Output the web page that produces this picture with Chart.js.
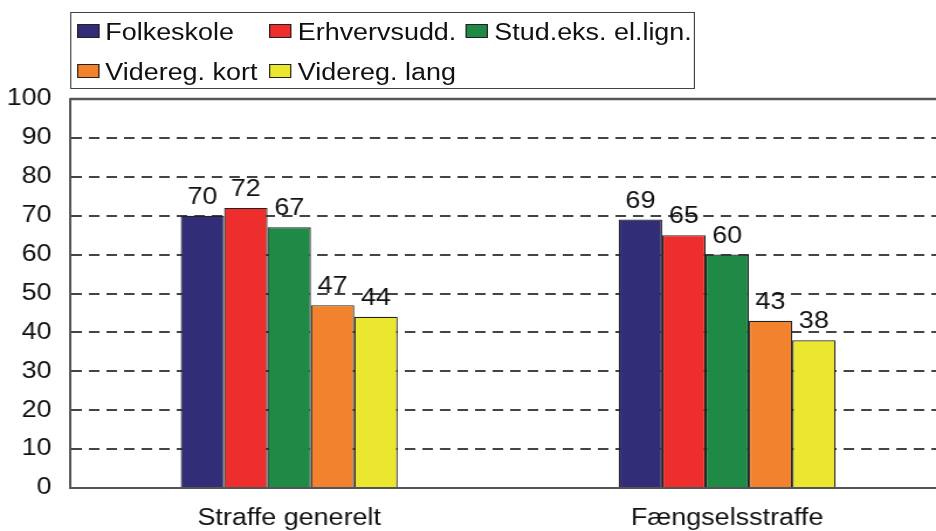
<!DOCTYPE html>
<html>
<head>
<meta charset="utf-8">
<script src="https://cdn.jsdelivr.net/npm/chart.js@4/dist/chart.umd.min.js"></script>
<style>
  html, body { margin: 0; padding: 0; overflow: hidden; background: #fff; }
  /* the reference is stretched sideways, so everything is drawn narrower and scaled */
  #wrap { position: relative; width: 820px; height: 531px; transform: scaleX(1.17); transform-origin: 0 0; }
  #box { position: absolute; left: 60px; top: 12px; width: 534px; height: 77px; border: 1.5px solid #444; box-sizing: border-box; }
  .item { position: absolute; font: 23px "Liberation Sans", Arial, sans-serif; color: #111; line-height: 26px; white-space: nowrap; }
  .sw { position: absolute; width: 19px; height: 14px; border: 1px solid #222; box-sizing: border-box; }
  #holder { position: absolute; left: 0; top: 0; width: 820px; height: 531px; }
</style>
</head>
<body>
<div id="wrap">
  <div id="holder"><canvas id="grafico"></canvas></div>
  <div id="box"></div>
</div>
<script>
// dados
const categories = ['Straffe generelt', 'Fængselsstraffe'];
const seriesNames = ['Folkeskole', 'Erhvervsudd.', 'Stud.eks. el.lign.', 'Videreg. kort', 'Videreg. lang'];
const folkeskole = [70, 69];
const erhvervsudd = [72, 65];
const studEks = [67, 60];
const videregKort = [47, 43];
const videregLang = [44, 38];
const yMin = 0, yMax = 100, yStep = 10;

const colors = ['#312D77', '#EE2D2D', '#1F8A45', '#F3822E', '#EBE72F'];
const seriesValues = [folkeskole, erhvervsudd, studEks, videregKort, videregLang];

// legenda em HTML (duas linhas, três colunas)
const legendCols = [65.5, 230, 398];
const legendRows = [24, 64];
const wrap = document.getElementById('wrap');
seriesNames.forEach((name, i) => {
    const col = i < 3 ? i : i - 3;
    const row = i < 3 ? 0 : 1;
    const sw = document.createElement('div');
    sw.className = 'sw';
    sw.style.left = legendCols[col] + 'px';
    sw.style.top = legendRows[row] + 'px';
    sw.style.background = colors[i];
    wrap.appendChild(sw);
    const t = document.createElement('div');
    t.className = 'item';
    t.style.left = (legendCols[col] + 24.5) + 'px';
    t.style.top = (legendRows[row] - 5) + 'px';
    t.textContent = name;
    wrap.appendChild(t);
});

Chart.defaults.font.family = '"Liberation Sans", Arial, sans-serif';
Chart.defaults.font.size = 23;
Chart.defaults.color = '#111';

// rótulos de valor acima das barras
const valueLabels = {
    id: 'valueLabels',
    afterDatasetsDraw(chart) {
        const ctx = chart.ctx;
        ctx.save();
        ctx.font = '23px "Liberation Sans", Arial, sans-serif';
        ctx.fillStyle = '#111';
        ctx.textAlign = 'center';
        ctx.textBaseline = 'alphabetic';
        chart.data.datasets.forEach((ds, i) => {
            chart.getDatasetMeta(i).data.forEach((bar, j) => {
                ctx.fillText(ds.data[j], bar.x, bar.y - 12);
            });
        });
        ctx.restore();
    }
};

// linha superior da área do gráfico
const topLine = {
    id: 'topLine',
    beforeDatasetsDraw(chart) {
        const {ctx, chartArea} = chart;
        ctx.save();
        ctx.strokeStyle = '#555';
        ctx.lineWidth = 2.5;
        ctx.beginPath();
        ctx.moveTo(chartArea.left, chartArea.top);
        ctx.lineTo(chartArea.right, chartArea.top);
        ctx.stroke();
        ctx.restore();
    }
};

new Chart(document.getElementById('grafico'), {
    type: 'bar',
    data: {
        labels: categories,
        datasets: seriesNames.map((name, i) => ({
            label: name,
            data: seriesValues[i],
            backgroundColor: colors[i],
            borderColor: '#222',
            borderWidth: 1.2,
            categoryPercentage: 0.495,
            barPercentage: 1.0,
        }))
    },
    options: {
        responsive: true,
        maintainAspectRatio: false,
        animation: false,
        layout: { padding: { top: 99, right: 11.3, left: 0, bottom: 0 } },
        plugins: {
            legend: { display: false },
            tooltip: { enabled: false }
        },
        scales: {
            x: {
                grid: { display: false, drawTicks: false },
                border: { display: true, color: '#555', width: 2 },
                ticks: { padding: 17, color: '#111' },
                afterFit: s => { s.height = 43; }
            },
            y: {
                min: yMin,
                max: yMax,
                ticks: { stepSize: yStep, padding: 16, color: '#111' },
                grid: {
                    drawTicks: false,
                    lineWidth: 2,
                    color: c => (c.tick && (c.tick.value === yMin || c.tick.value === yMax)) ? 'rgba(0,0,0,0)' : '#444'
                },
                border: { display: true, color: '#555', width: 2, dash: [9, 6] },
                afterFit: s => { s.width = 60; }
            }
        }
    },
    plugins: [valueLabels, topLine]
});
</script>
</body>
</html>
